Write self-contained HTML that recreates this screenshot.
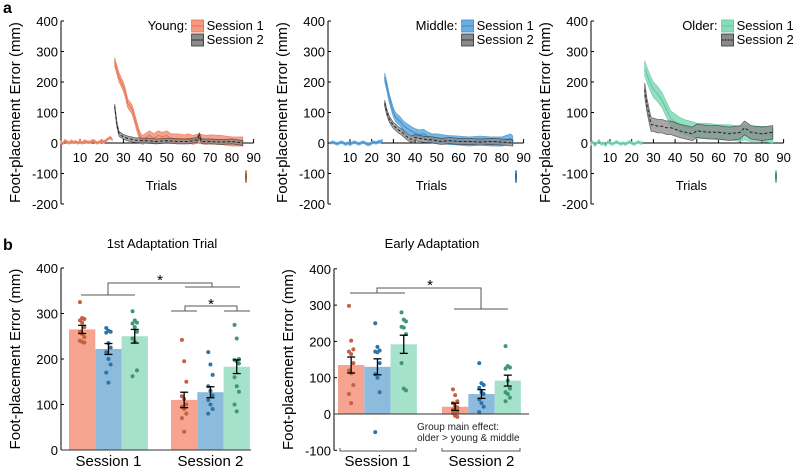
<!DOCTYPE html>
<html><head><meta charset="utf-8">
<style>
html,body{margin:0;padding:0;background:#fff;}
svg{display:block;font-family:"Liberation Sans",Arial,sans-serif;}
</style></head>
<body>
<svg id="fig" width="793" height="468" viewBox="0 0 793 468"></svg>
<script>
// ---------- data: panel a (trial, mean, half-band) ----------
const trialTicks = [10,20,30,40,50,60,70,80,90];
const yTicksA = [400,300,200,100,0,-100,-200];
const baseYoung = [[1,3],[2,-3],[3,8],[4,4],[5,0],[6,6],[7,2],[8,4],[9,0],[10,4],[11,0],[12,6],[13,4],[14,2],[15,4],[16,8],[17,4],[18,0],[19,4],[20,6],[21,4],[22,8],[23,14],[24,18],[25,10]];
const youngS1 = [[26,265],[27,240],[28,215],[29,200],[30,185],[31,160],[32,130],[33,120],[34,110],[35,85],[36,60],[37,35],[38,15],[39,10],[40,15],[42,25],[44,15],[46,25],[48,20],[50,25],[52,15],[55,15],[58,12],[60,15],[62,10],[65,15],[68,10],[70,12],[75,10],[80,5],[85,5]];
const youngS2 = [[26,120],[27,60],[28,30],[29,25],[30,20],[32,15],[35,10],[38,8],[40,8],[45,5],[50,8],[55,5],[60,5],[64,10],[65,25],[66,5],[70,5],[75,3],[80,5],[85,0]];
const baseMiddle = [[1,0],[2,3],[3,0],[4,-3],[5,0],[6,3],[7,0],[8,-4],[9,0],[10,-4],[11,0],[12,3],[13,0],[14,-3],[15,0],[16,3],[17,0],[18,-4],[19,-4],[20,0],[21,3],[22,0],[23,4],[24,4],[25,8]];
const middleS1 = [[26,215],[27,185],[28,150],[29,125],[30,100],[31,85],[32,78],[33,72],[34,62],[35,55],[36,50],[38,40],[40,32],[42,28],[44,30],[46,20],[48,15],[50,15],[55,10],[60,8],[65,5],[70,8],[75,5],[80,5],[84,15],[85,8]];
const middleS2 = [[26,130],[27,100],[28,80],[29,68],[30,58],[32,45],[34,35],[36,22],[38,12],[40,18],[44,12],[48,10],[52,5],[56,8],[60,5],[65,5],[70,3],[75,5],[80,3],[85,0]];
const baseOlder = [[1,-4],[2,4],[3,-8],[4,0],[5,8],[6,-4],[7,0],[8,-8],[9,4],[10,0],[11,-4],[12,0],[13,4],[14,0],[15,-4],[16,0],[17,-4],[18,0],[19,4],[20,0],[21,-4],[22,0],[23,4],[24,0],[25,0]];
const olderS1 = [[26,245],[27,225],[28,205],[29,190],[30,175],[32,160],[34,140],[36,110],[38,80],[40,70],[42,60],[45,50],[48,45],[50,40],[55,40],[60,35],[65,35],[70,30],[72,35],[75,30],[80,30],[85,25]];
const olderS2 = [[26,175],[27,125],[28,90],[29,60],[30,60],[32,55],[34,55],[36,50],[38,50],[40,45],[42,40],[45,35],[48,30],[50,40],[55,35],[60,35],[65,30],[70,35],[72,50],[75,35],[80,30],[85,35]];
const bandS1 = [15,15,25];
const bandS2 = [8,10,22];
const groupNames = ["Young:","Middle:","Older:"];

// ---------- data: panel b ----------
const yTicksB1 = [400,300,200,100,0];
const yTicksB2 = [400,300,200,100,0,-100];
const sessions = ["Session 1","Session 2"];
const firstMeans = [[265,222,250],[110,127,183]];
const firstSE = [[9,12,15],[17,12,15]];
const firstDots = [
 [[325,290,288,285,280,270,260,255,248,240,238,236],[268,262,260,258,235,225,215,200,188,170,148],[305,285,280,278,270,260,245,238,175,162]],
 [[242,195,150,118,112,100,95,90,80,70,40],[215,188,165,140,130,120,110,100,90,80],[275,245,200,198,195,190,160,140,128,100,85]]
];
const earlyMeans = [[135,130,192],[20,55,92]];
const earlySE = [[22,22,25],[10,12,15]];
const earlyDots = [
 [[298,202,178,172,165,140,120,112,80,55,30],[250,185,175,172,170,140,110,100,60,-50],[280,260,255,240,238,220,140,70,65]],
 [[68,52,35,30,22,18,12,8,5,2,-5,-8],[140,85,80,72,60,55,40,30,20,5],[187,132,128,125,92,70,60,55,45,35]]
];

const COLS_LINE = ["#e8704f","#3f8fcc","#5cc9a0"];
const COLS_FILL = ["#f39a80","#6aaee0","#8adbbc"];
const BAR = ["#f6a48f","#8dbbdd","#a6e1cb"];
const DOT = ["#c4613f","#2f74a8","#3c9876"];

const svg = document.getElementById('fig');
const NS = "http://www.w3.org/2000/svg";
function mk(tag, attrs, parent){
  const e = document.createElementNS(NS, tag);
  for (const k in attrs) e.setAttribute(k, attrs[k]);
  (parent||svg).appendChild(e);
  return e;
}
function txt(s, x, y, size, anchor, parent, extra){
  const t = mk('text', Object.assign({x:x, y:y, 'font-size':size, 'text-anchor':anchor||'start', fill:'#000'}, extra||{}), parent);
  t.textContent = s;
  return t;
}

let t = txt('a', 3, 13, 16, 'start', svg, {'font-weight':'bold'});
 
t = txt('b', 3, 250, 16, 'start', svg, {'font-weight':'bold'});
 

// ---------- panel a ----------
const axisXs = [61, 328, 591];
const origins = [58.3, 328.3, 588.3];
const series1 = [youngS1, middleS1, olderS1];
const series2 = [youngS2, middleS2, olderS2];
const bases = [baseYoung, baseMiddle, baseOlder];
const yA = v => 143 - v * 0.305;

function bandPath(pts, xf, hb){
  let up = pts.map(p => xf(p[0]).toFixed(1)+','+yA(p[1]+hb).toFixed(1));
  let dn = pts.slice().reverse().map(p => xf(p[0]).toFixed(1)+','+yA(p[1]-hb).toFixed(1));
  return 'M'+up.join('L')+'L'+dn.join('L')+'Z';
}
function linePath(pts, xf){
  return 'M'+pts.map(p => xf(p[0]).toFixed(1)+','+yA(p[1]).toFixed(1)).join('L');
}

for (let g=0; g<3; g++){
  const G = mk('g', {});
  
  
  const ax = axisXs[g], ox = origins[g];
  const xf = tr => ox + tr * 2.17;
  mk('line',{x1:ax,y1:yA(400),x2:ax,y2:yA(-200),stroke:'#000','stroke-width':1},G);
  yTicksA.forEach(v=>{
    mk('line',{x1:ax,y1:yA(v),x2:ax+3,y2:yA(v),stroke:'#000','stroke-width':1},G);
    const l = txt(String(v), ax-3, yA(v)+5, 13, 'end', G);
     
  });
  mk('line',{x1:ax,y1:yA(0),x2:xf(90),y2:yA(0),stroke:'#000','stroke-width':1},G);
  trialTicks.forEach(v=>{
    mk('line',{x1:xf(v),y1:yA(0),x2:xf(v),y2:yA(0)-4,stroke:'#000','stroke-width':1},G);
    const l = txt(String(v), xf(v), 162, 13, 'middle', G);
     
  });
  const xl = txt('Trials', xf(47.5), 190, 13, 'middle', G);
   
  const yl = txt('Foot-placement Error (mm)', 0, 0, 15, 'middle', G, {transform:`translate(${ax-41},${yA(100)}) rotate(-90)`});
   
  const bp = mk('path',{d:bandPath(bases[g], xf, 6),fill:COLS_FILL[g],opacity:0.9},G);
   
  mk('path',{d:linePath(bases[g], xf),fill:'none',stroke:COLS_LINE[g],'stroke-width':1},G);
  const b1 = mk('path',{d:bandPath(series1[g], xf, bandS1[g]),fill:COLS_FILL[g],stroke:COLS_LINE[g],'stroke-width':0.6,opacity:0.9},G);
   
  mk('path',{d:linePath(series1[g], xf),fill:'none',stroke:COLS_LINE[g],'stroke-width':1},G);
  const b2 = mk('path',{d:bandPath(series2[g], xf, bandS2[g]),fill:'#8a8a8a',stroke:'#333','stroke-width':0.8,opacity:0.75},G);
   
  mk('path',{d:linePath(series2[g], xf),fill:'none',stroke:'#222','stroke-width':1,'stroke-dasharray':'3,2'},G);
  const eb = mk('line',{x1:xf(86.5),y1:yA(-90),x2:xf(86.5),y2:yA(-130),stroke:COLS_LINE[g],'stroke-width':2},G);
   
  mk('line',{x1:xf(86.5),y1:yA(-100),x2:xf(86.5),y2:yA(-120),stroke:'#444','stroke-width':1},G);
  // legend
  const lx = xf(90) - 66;
  const L = mk('g',{},G);
   
  txt(groupNames[g], lx, 30, 13, 'end', L);
  mk('rect',{x:lx+4,y:20,width:12,height:12,fill:COLS_FILL[g],stroke:COLS_LINE[g],'stroke-width':0.8},L);
  mk('line',{x1:lx+4,y1:26,x2:lx+16,y2:26,stroke:COLS_LINE[g],'stroke-width':1},L);
  txt('Session 1', lx+19, 30, 13, 'start', L);
  mk('rect',{x:lx+4,y:34,width:12,height:12,fill:'#8a8a8a',stroke:'#333','stroke-width':0.8},L);
  mk('line',{x1:lx+4,y1:40,x2:lx+16,y2:40,stroke:'#111','stroke-width':1,'stroke-dasharray':'2,1'},L);
  txt('Session 2', lx+19, 44, 13, 'start', L);
}

// ---------- panel b ----------
function barPanel(cfg){
  const G = mk('g',{});
  
  
  const y = v => cfg.y0 - v * cfg.k;
  const ax = cfg.ax;
  mk('line',{x1:ax,y1:y(cfg.ticks[0]),x2:ax,y2:y(cfg.ticks[cfg.ticks.length-1]),stroke:'#000','stroke-width':1},G);
  cfg.ticks.forEach(v=>{
    mk('line',{x1:ax,y1:y(v),x2:ax+3,y2:y(v),stroke:'#000','stroke-width':1},G);
    const l = txt(String(v), ax-3, y(v)+5, 13, 'end', G);
     
  });
  const yl = txt('Foot-placement Error (mm)', 0, 0, 15, 'middle', G, {transform:`translate(${ax-41},${(y(cfg.ticks[0])+y(cfg.ticks[cfg.ticks.length-1]))/2}) rotate(-90)`});
   
  const ti = txt(cfg.title, cfg.titleX, 248, 13, 'middle', G);
   
  const bw = 26.3;
  for (let s=0; s<2; s++){
    for (let g=0; g<3; g++){
      const x0 = cfg.starts[s] + g*bw;
      const m = cfg.means[s][g];
      const r = mk('rect',{x:x0,y:Math.min(y(m),y(0)),width:bw,height:Math.abs(y(0)-y(m)),fill:BAR[g]},G);
       
      cfg.dots[s][g].forEach((v,i)=>{
        const c = mk('circle',{cx:x0+bw/2+((i%3)-1)*2.2,cy:y(v),r:2,fill:DOT[g]},G);
         
      });
      const se = cfg.se[s][g], cx = x0+bw/2;
      mk('line',{x1:cx,y1:y(m+se),x2:cx,y2:y(m-se),stroke:'#000','stroke-width':1.3},G);
      mk('line',{x1:cx-4,y1:y(m+se),x2:cx+4,y2:y(m+se),stroke:'#000','stroke-width':1.3},G);
      mk('line',{x1:cx-4,y1:y(m-se),x2:cx+4,y2:y(m-se),stroke:'#000','stroke-width':1.3},G);
    }
    const sl = txt(sessions[s], cfg.starts[s]+bw*1.5, 466, 15, 'middle', G);
     
  }
  mk('line',{x1:ax,y1:y(0),x2:cfg.xEnd,y2:y(0),stroke:'#333','stroke-width':1},G);
  return {G,y};
}
const p1 = barPanel({name:'first-adaptation-trial-chart',ax:61,y0:450,k:0.455,ticks:yTicksB1,title:'1st Adaptation Trial',titleX:162,starts:[69,171],means:firstMeans,se:firstSE,dots:firstDots,xEnd:251});
const p2 = barPanel({name:'early-adaptation-chart',ax:334,y0:414,k:0.363,ticks:yTicksB2,title:'Early Adaptation',titleX:432,starts:[338,442],means:earlyMeans,se:earlySE,dots:earlyDots,xEnd:529});

function poly(pts, parent, name){
  const p = mk('polyline',{points:pts,fill:'none',stroke:'#555','stroke-width':1},parent);
   
}
poly('81,295 135,295',p1.G,'sig-bracket-session1');
poly('108,295 108,283 212,283 212,287',p1.G,'sig-bracket-top');
poly('185,287 240,287',p1.G,'sig-bracket-session2');
let st = txt('*',160,285,15,'middle',p1.G);  
poly('171,311 197,311',p1.G,'sig-bracket-young');
poly('224,311 250,311',p1.G,'sig-bracket-older');
poly('185,311 185,306 237,306 237,311',p1.G,'sig-bracket-group');
st = txt('*',211,309,15,'middle',p1.G);  

poly('350,293 405,293',p2.G,'sig-bracket-session1');
poly('377,293 377,288 481,288 481,309',p2.G,'sig-bracket-top');
poly('454,309 508,309',p2.G,'sig-bracket-session2');
st = txt('*',430,290,15,'middle',p2.G);  

poly('340,448 340,451 416,451 416,448',p2.G,'session1-underline');
poly('442,448 442,451 520,451 520,448',p2.G,'session2-underline');
let ann = txt('Group main effect:',417,430,10,'start',p2.G,{fill:'#222'});
 
ann = txt('older > young & middle',417,441,10,'start',p2.G,{fill:'#222'});
 
</script>
</body></html>
